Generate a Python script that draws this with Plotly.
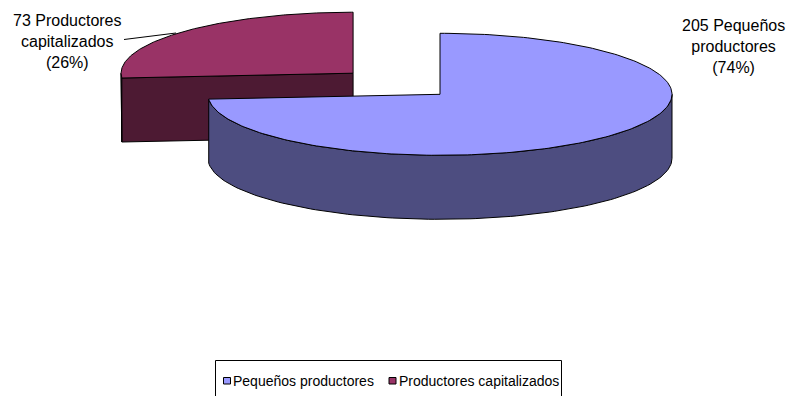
import numpy as np
import plotly.graph_objects as go

# Data
categories = ["Pequeños productores", "Productores capitalizados"]
counts = [205, 73]
label_names = ["Pequeños<br>productores", "Productores<br>capitalizados"]

# Styling
top_colors = ["#9999FF", "#993366"]
side_colors = ["#4D4D80", "#4D1A33"]
explode = [0.0, 0.51]

# 3D pie geometry (pixel space)
W, H = 790, 396
CX, CY = 440.0, 94.3
RX, RY = 232.0, 61.0
DEPTH = 64.0

total = sum(counts)
fig = go.Figure()


def pt(cx, cy, a, dz=0.0):
    r = np.radians(a)
    return cx + RX * np.cos(r), cy - RY * np.sin(r) + dz


def poly(xs, ys, fill):
    fig.add_trace(go.Scatter(
        x=list(xs) + [xs[0]], y=list(ys) + [ys[0]], mode="lines",
        fill="toself", fillcolor=fill,
        line=dict(color="#000000", width=1),
        hoverinfo="skip", showlegend=False,
    ))


# slices: start at 12 o'clock, run clockwise
slices = []
start = 90.0
for i, v in enumerate(counts):
    sweep = 360.0 * v / total
    a_hi, a_lo = start, start - sweep
    mid = np.radians((a_hi + a_lo) / 2)
    cx = CX + explode[i] * RX * np.cos(mid)
    cy = CY - explode[i] * RY * np.sin(mid)
    slices.append((i, a_lo, a_hi, cx, cy))
    start = a_lo

# farther slices first
order = sorted(slices, key=lambda s: s[4])
for i, a_lo, a_hi, cx, cy in order:
    # radial face on the counter-clockwise edge
    if np.sin(np.radians(a_hi + 90)) < -1e-6:
        x1, y1 = pt(cx, cy, a_hi)
        poly([cx, x1, x1, cx], [cy, y1, y1 + DEPTH, cy + DEPTH], side_colors[i])
    # radial face on the clockwise edge
    if np.sin(np.radians(a_lo - 90)) < -1e-6:
        x1, y1 = pt(cx, cy, a_lo)
        poly([cx, x1, x1, cx], [cy, y1, y1 + DEPTH, cy + DEPTH], side_colors[i])
    # outer wall: front half only
    lo_k = np.floor(a_lo / 360.0)
    for k in range(int(lo_k) - 1, int(lo_k) + 2):
        f0, f1 = 180.0 + 360 * k, 360.0 + 360 * k
        s0, s1 = max(a_lo, f0), min(a_hi, f1)
        if s1 - s0 > 1e-6:
            t = np.linspace(s0, s1, 120)
            xs, ys = pt(cx, cy, t)
            poly(np.concatenate([xs, xs[::-1]]),
                 np.concatenate([ys, ys[::-1] + DEPTH]), side_colors[i])
    # top face
    t = np.linspace(a_lo, a_hi, 240)
    xs, ys = pt(cx, cy, t)
    poly(np.concatenate([[cx], xs]), np.concatenate([[cy], ys]), top_colors[i])

font_family = "Liberation Sans, Arial, sans-serif"

# data labels
pcts = [round(100 * v / total) for v in counts]
label_pos = [(733, 46), (67, 41)]
annotations = []
for i in range(len(counts)):
    first, second = label_names[i].split("<br>")
    text = f"{counts[i]} {first}<br>{second}<br>({pcts[i]}%)"
    annotations.append(dict(
        x=label_pos[i][0], y=label_pos[i][1], xref="x", yref="y",
        text=text, showarrow=False, align="center",
        xanchor="center", yanchor="middle",
        font=dict(family=font_family, size=16, color="#000000"),
    ))

shapes = [
    # leader line for the exploded slice label
    dict(type="line", x0=124, y0=39.5, x1=176, y1=33, xref="x", yref="y",
         line=dict(color="#000000", width=1)),
    # legend frame
    dict(type="rect", x0=215.5, y0=360.5, x1=561.5, y1=420, xref="x", yref="y",
         line=dict(color="#000000", width=1), fillcolor="rgba(0,0,0,0)"),
]

legend_x = [223.5, 389]
for i, name in enumerate(categories):
    shapes.append(dict(type="rect", x0=legend_x[i], y0=377.5, x1=legend_x[i] + 7, y1=384,
                       xref="x", yref="y", line=dict(color="#000000", width=1),
                       fillcolor=top_colors[i]))
    annotations.append(dict(
        x=legend_x[i] + 7.5, y=381, xref="x", yref="y", text=name,
        showarrow=False, xanchor="left", yanchor="middle",
        font=dict(family=font_family, size=14, color="#000000"),
    ))

fig.update_layout(
    width=W, height=H,
    margin=dict(l=0, r=0, t=0, b=0),
    paper_bgcolor="#FFFFFF", plot_bgcolor="#FFFFFF",
    showlegend=False,
    xaxis=dict(range=[0, W], visible=False, fixedrange=True),
    yaxis=dict(range=[H, 0], visible=False, fixedrange=True),
    shapes=shapes, annotations=annotations,
)

fig.write_html("out.html")
